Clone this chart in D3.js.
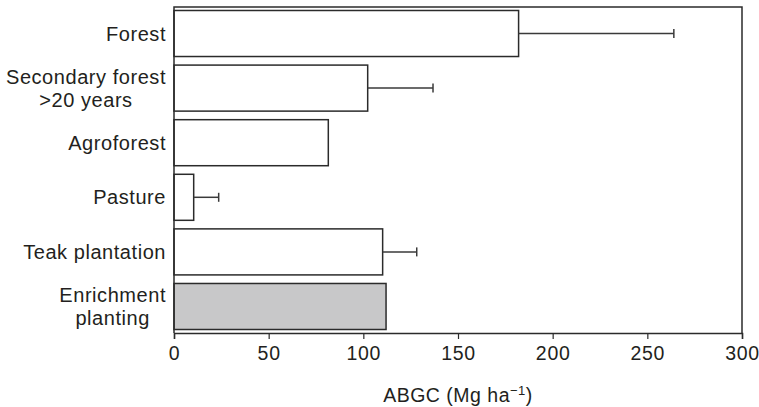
<!DOCTYPE html>
<html>
<head>
<meta charset="utf-8">
<script src="https://cdn.jsdelivr.net/npm/d3@7"></script>
<style>
  html, body { margin: 0; padding: 0; background: #fff; }
  svg { display: block; }
  text { font-family: "Liberation Sans", Arial, Helvetica, sans-serif; fill: #231f20; }
</style>
</head>
<body>
<svg id="chart" width="759" height="407"></svg>
<script>
// Above-ground carbon by land-use type
const categories = [
  ["Forest"],
  ["Secondary forest", ">20 years"],
  ["Agroforest"],
  ["Pasture"],
  ["Teak plantation"],
  ["Enrichment", "planting"]
];
const abgc = [182, 102.3, 81.5, 10.4, 110.2, 112];
const errorPlus = [82, 34.5, null, 13.2, 18, null];
const highlighted = [false, false, false, false, false, true];
const xTicks = [0, 50, 100, 150, 200, 250, 300];

const svg = d3.select("#chart");
const mLeft = 174, mRight = 742, mTop = 7, mBottom = 333;
const ink = "#2b2b2b";

const x = d3.scaleLinear().domain([0, 300]).range([mLeft, mRight]);
const y = d3.scaleBand()
  .domain(d3.range(categories.length))
  .range([mTop, mBottom])
  .paddingInner(0.157)
  .paddingOuter(0.064);

// bars
svg.append("g").selectAll("rect")
  .data(abgc)
  .join("rect")
  .attr("x", x(0))
  .attr("y", (d, i) => y(i))
  .attr("width", d => x(d) - x(0))
  .attr("height", y.bandwidth())
  .attr("fill", (d, i) => highlighted[i] ? "#c8c8c9" : "#fff")
  .attr("stroke", ink)
  .attr("stroke-width", 1.5);

// error bars (upper side only)
const eb = svg.append("g").attr("stroke", "#3a3a3a").attr("stroke-width", 1.5);
abgc.forEach((v, i) => {
  if (errorPlus[i] == null) return;
  const cy = y(i) + y.bandwidth() / 2;
  eb.append("line")
    .attr("x1", x(v)).attr("x2", x(v + errorPlus[i]))
    .attr("y1", cy).attr("y2", cy);
  eb.append("line")
    .attr("x1", x(v + errorPlus[i])).attr("x2", x(v + errorPlus[i]))
    .attr("y1", cy - 4.5).attr("y2", cy + 4.5);
});

// frame
svg.append("path")
  .attr("d", `M${mLeft},${mBottom}V${mTop}H${mRight}V${mBottom}`)
  .attr("stroke", ink).attr("stroke-width", 1.5).attr("fill", "none");

// x axis
const xAxis = svg.append("g")
  .attr("transform", `translate(0,${mBottom})`)
  .call(d3.axisBottom(x).tickValues(xTicks).tickSize(6).tickPadding(7));
xAxis.select(".domain").attr("stroke", ink).attr("stroke-width", 1.5);
xAxis.selectAll(".tick line").attr("stroke", ink).attr("stroke-width", 1.2);
xAxis.selectAll(".tick text")
  .attr("font-size", 19.5)
  .attr("letter-spacing", 0.7)
  .attr("fill", "#231f20")
  .attr("font-family", "Liberation Sans, Arial, sans-serif");

// category labels: block right-aligned, extra lines centred under the first
const lineH = 23, labelX = 166, labelSpacing = 0.55;
categories.forEach((lines, i) => {
  const cy = y(i) + y.bandwidth() / 2;
  const g = svg.append("g");
  const first = g.append("text")
    .attr("x", labelX)
    .attr("y", cy - (lines.length - 1) / 2 * lineH)
    .attr("dy", "0.35em")
    .attr("text-anchor", "end")
    .attr("font-size", 20)
    .attr("letter-spacing", labelSpacing)
    .text(lines[0]);
  const w = first.node().getComputedTextLength();
  lines.slice(1).forEach((ln, k) => {
    g.append("text")
      .attr("x", labelX - w / 2)
      .attr("y", cy + (k + 1 - (lines.length - 1) / 2) * lineH)
      .attr("dy", "0.35em")
      .attr("text-anchor", "middle")
      .attr("font-size", 20)
      .attr("letter-spacing", labelSpacing)
      .text(ln);
  });
});

// axis title
const title = svg.append("text")
  .attr("x", (mLeft + mRight) / 2)
  .attr("y", 402)
  .attr("text-anchor", "middle")
  .attr("font-size", 19.5)
  .attr("letter-spacing", 0.5);
title.append("tspan").text("ABGC (Mg ha");
title.append("tspan").attr("dy", -7).attr("font-size", 13).text("\u22121");
title.append("tspan").attr("dy", 7).text(")");
</script>
</body>
</html>
